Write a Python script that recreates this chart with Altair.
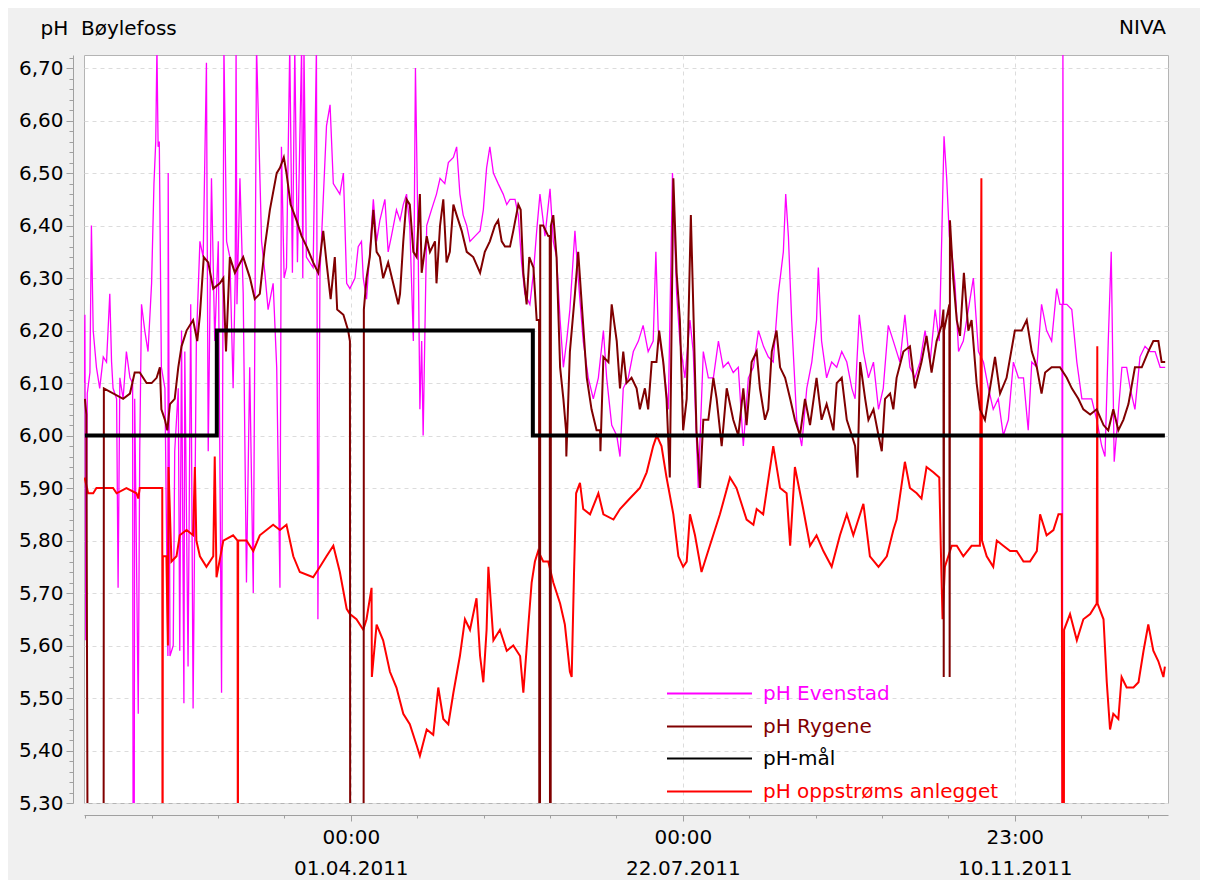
import altair as alt
import pandas as pd

FONT = "DejaVu Sans"
BASE_MS = 1293840000000  # 2011-01-01T00:00:00Z
DAY_MS = 86400000

series_names = ["pH Evenstad", "pH Rygene", "pH-mål", "pH oppstrøms anlegget"]
series_colors = ["#ff00ff", "#800000", "#000000", "#ff0000"]

# days since 2011-01-01, pH values
evenstad_days = [0.0, 0.3, 0.6, 1.1, 2.0, 2.5, 3.1, 4.2, 5.3, 6.5, 7.6, 8.7, 9.3, 9.8, 11.0, 11.5, 12.1, 13.2, 14.3, 15.5,
                 16.4, 16.6, 16.9, 17.1, 18.3, 18.8, 19.4, 20.5, 21.6, 22.8, 23.6, 24.2, 24.6, 25.0, 25.4, 26.1, 27.3,
                 28.3, 28.4, 29.0, 30.1, 30.6, 31.8, 32.3, 32.9, 33.7, 34.0, 35.1, 36.0, 36.8, 37.9, 39.1, 40.2, 41.3,
                 41.9, 43.0, 44.1, 45.3, 46.4, 47.2, 48.1, 49.2, 50.3, 51.0, 51.3, 51.6, 52.6, 53.7, 54.8, 55.9, 57.1,
                 58.2, 59.9, 61.0, 62.1, 63.8, 65.0, 66.1, 66.6, 67.5, 68.3, 69.4, 70.3, 71.1, 72.0, 73.4, 73.8, 74.2,
                 75.0, 77.3, 78.4, 78.9, 79.6, 81.8, 83.0, 84.1, 86.3, 87.5, 88.6, 89.7, 91.4, 92.5, 93.6, 94.2, 95.3,
                 96.4, 97.6, 98.7, 99.8, 101.5, 102.6, 103.7, 105.4, 106.6, 107.7, 108.8, 109.9, 111.1, 111.8, 112.7,
                 113.3, 113.9, 114.4, 115.6, 117.2, 118.9, 120.1, 121.7, 122.9, 124.6, 125.7, 126.8, 127.9, 129.1,
                 130.2, 131.9, 133.6, 134.7, 135.8, 136.9, 138.1, 139.7, 141.4, 142.6, 143.7, 145.4, 146.5, 147.6,
                 148.7, 150.4, 151.6, 152.7, 153.8, 155.5, 157.2, 158.3, 159.4, 160.6, 161.7, 162.8, 163.9, 165.6,
                 166.7, 168.4, 170.1, 171.8, 173.5, 175.2, 176.3, 178.0, 179.7, 180.8, 181.9, 183.6, 185.3, 187.0,
                 188.6, 190.3, 192.0, 192.9, 193.7, 195.4, 197.1, 198.5, 199.9, 201.0, 202.7, 204.4, 205.5, 207.2,
                 208.9, 210.6, 212.3, 214.0, 215.6, 217.3, 219.0, 220.7, 222.4, 224.1, 225.8, 227.5, 229.2, 230.8,
                 232.5, 234.2, 235.9, 236.7, 237.6, 238.7, 240.4, 242.1, 243.8, 245.5, 247.1, 247.7, 248.8, 250.5,
                 252.2, 253.9, 255.6, 257.3, 259.0, 260.1, 261.5, 262.9, 264.6, 266.3, 268.0, 269.6, 271.3, 273.0,
                 275.2, 276.9, 278.6, 280.3, 282.0, 283.7, 285.4, 287.1, 288.5, 289.3, 290.1, 291.0, 291.9, 292.7,
                 293.8, 295.0, 296.6, 298.3, 300.0, 301.7, 303.4, 305.1, 306.7, 308.4, 310.1, 311.8, 313.5, 315.2,
                 316.9, 318.5, 319.7, 321.4, 323.0, 324.7, 326.4, 328.1, 329.2, 329.9, 330.0, 330.2, 330.4, 331.5,
                 333.2, 334.9, 336.6, 338.2, 339.9, 341.6, 343.3, 344.4, 345.5, 346.5, 347.5, 348.4, 350.1, 351.7,
                 352.9, 354.5, 356.2, 357.9, 359.6, 361.3, 363.0, 364.7]
evenstad_ph = [6.10, 6.23, 5.61, 6.08, 6.12, 6.40, 6.20, 6.13, 6.09, 6.15, 6.14, 6.27, 6.14, 6.09, 6.07, 5.71, 6.11, 6.07, 6.16, 6.11,
               6.10, 5.00, 5.00, 6.07, 5.47, 5.97, 6.25, 6.20, 6.16, 6.29, 6.48, 6.56, 6.74, 6.55, 6.56, 6.13, 6.09,
               5.58, 6.50, 5.58, 5.60, 5.97, 6.09, 5.59, 6.20, 5.49, 6.16, 5.56, 6.25, 5.48, 6.18, 6.37, 6.34, 6.71,
               5.97, 6.49, 6.18, 6.37, 5.51, 6.74, 6.37, 6.34, 6.09, 6.30, 6.74, 6.25, 6.49, 6.27, 5.72, 6.13, 5.70,
               6.74, 6.37, 6.31, 6.24, 6.29, 6.13, 5.71, 6.55, 6.30, 6.32, 6.74, 6.31, 6.74, 6.33, 6.74, 6.30, 6.74,
               6.34, 6.32, 6.74, 5.65, 6.31, 6.59, 6.63, 6.48, 6.46, 6.50, 6.29, 6.28, 6.30, 6.36, 6.37, 6.30, 6.26,
               6.35, 6.45, 6.37, 6.41, 6.45, 6.35, 6.38, 6.43, 6.41, 6.44, 6.46, 6.40, 6.18, 6.70, 6.37,
               6.05, 6.18, 6.00, 6.40, 6.43, 6.46, 6.49, 6.48, 6.52, 6.53, 6.55, 6.46, 6.42, 6.40,
               6.37, 6.38, 6.39, 6.43, 6.51, 6.55, 6.50, 6.48, 6.46, 6.44, 6.45, 6.45, 6.42, 6.33,
               6.27, 6.25, 6.31, 6.39, 6.46, 6.38, 6.47, 6.37, 6.34, 6.22, 6.13, 6.18, 6.24, 6.39,
               6.30, 6.18, 6.11, 6.07, 6.11, 6.20, 6.11, 6.02, 6.00, 5.96, 6.09, 6.11, 6.16, 6.18,
               6.21, 6.16, 6.18, 6.35, 6.20, 6.14, 6.05, 6.50, 6.27, 6.18, 6.11, 6.22, 6.16, 5.90,
               6.16, 6.11, 6.11, 6.18, 6.13, 6.14, 6.12, 6.13, 5.98, 6.11, 6.13, 6.20, 6.17, 6.15,
               6.14, 6.27, 6.35, 6.46, 6.38, 6.22, 6.03, 5.98, 6.09, 6.14, 6.22, 6.32, 6.18, 6.11,
               6.14, 6.13, 6.16, 6.14, 6.09, 6.07, 6.23, 6.16, 6.11, 6.14, 6.05, 6.09, 6.21, 6.18,
               6.14, 6.23, 6.13, 6.11, 6.14, 6.20, 6.14, 6.24, 6.18, 6.37, 6.57, 6.49, 6.38, 6.35,
               6.29, 6.16, 6.18, 6.24, 6.30, 6.16, 6.14, 6.09, 6.05, 6.07, 6.00, 6.03, 6.14, 6.11,
               6.11, 6.01, 6.14, 6.13, 6.25, 6.20, 6.18, 6.28, 6.25, 6.25, 5.00, 6.74, 6.25, 6.25,
               6.24, 6.14, 6.07, 6.07, 6.07, 6.03, 5.98, 5.96, 6.18, 6.35, 5.95, 6.01, 6.13, 6.13,
               6.09, 6.05, 6.15, 6.17, 6.16, 6.16, 6.13, 6.13]

rygene_days = [0.3, 0.8, 1.3, 6.6, 6.7, 13.2, 15.5, 17.1, 18.8, 21.1, 22.8, 24.5, 25.6, 26.1, 27.3, 28.1, 29.0, 30.6, 31.8,
               32.9, 34.6, 36.8, 38.2, 39.1, 40.4, 41.9, 43.6, 45.8, 47.0, 47.9, 49.2, 50.9, 53.7, 56.0, 57.6, 59.3,
               61.0, 62.7, 65.0, 66.1, 67.4, 68.3, 69.7, 71.7, 73.4, 75.1, 77.3, 79.0, 80.7, 81.8, 83.2, 84.6, 85.4,
               87.5, 89.1, 89.7, 89.8, 94.3, 94.4, 95.3, 96.4, 97.6, 98.7, 99.8, 100.9, 102.6, 104.3, 106.0, 106.6,
               107.7, 108.8, 109.9, 111.1, 112.2, 113.3, 113.9, 115.6, 116.7, 118.4, 118.9, 120.1, 121.2, 122.3,
               123.4, 124.6, 125.7, 127.4, 129.1, 131.3, 133.6, 135.2, 136.9, 138.6, 139.7, 140.9, 142.0, 143.7,
               144.8, 146.5, 147.3, 148.2, 149.3, 150.2, 151.6, 152.7, 153.5, 153.6, 153.8, 153.9, 154.9, 156.6,
               157.1, 157.2, 157.4, 157.5, 158.3, 159.4, 160.6, 161.7, 162.6, 162.7, 163.9, 165.6, 166.7, 167.9,
               169.6, 171.2, 172.9, 174.1, 174.2, 175.2, 176.9, 178.0, 179.7, 180.8, 181.9, 183.0, 184.7, 186.4,
               187.5, 189.2, 190.3, 191.5, 193.1, 194.0, 195.4, 196.5, 197.6, 198.8, 199.9, 201.0, 202.1, 203.3,
               204.7, 205.5, 206.6, 207.8, 208.9, 210.6, 212.3, 213.4, 215.1, 216.8, 219.0, 220.7, 222.4, 223.5,
               225.2, 226.9, 228.0, 229.7, 230.8, 232.0, 233.6, 234.8, 236.5, 238.2, 239.8, 241.5, 243.2, 244.9,
               247.1, 248.8, 250.5, 252.8, 253.9, 255.6, 257.3, 259.0, 260.1, 260.9, 261.8, 263.5, 264.6, 266.3,
               268.0, 269.1, 270.2, 271.9, 273.0, 274.1, 276.4, 278.6, 280.3, 282.5, 284.2, 285.9, 287.6, 289.3,
               289.9, 290.0, 290.1, 291.9, 292.0, 292.1, 293.2, 294.4, 295.5, 296.8, 298.3, 299.4, 301.1, 302.2,
               303.9, 305.6, 307.3, 309.0, 311.2, 314.0, 316.3, 318.0, 319.7, 321.4, 323.0, 324.2, 326.4, 329.2,
               331.5, 333.2, 335.4, 337.1, 339.4, 341.6, 343.9, 345.5, 347.2, 348.9, 350.6, 352.3, 354.5, 356.8,
               359.0, 360.7, 362.4, 363.5, 364.7]
rygene_ph = [6.07, 6.04, 5.00, 5.00, 6.09, 6.07, 6.08, 6.12, 6.12, 6.10, 6.10, 6.11, 6.13, 6.05, 6.03, 6.01, 6.06, 6.07, 6.13,
             6.17, 6.20, 6.22, 6.18, 6.23, 6.34, 6.33, 6.28, 6.29, 6.30, 6.16, 6.34, 6.31, 6.34, 6.30, 6.26, 6.27,
             6.36, 6.43, 6.50, 6.51, 6.53, 6.50, 6.44, 6.41, 6.38, 6.36, 6.33, 6.31, 6.39, 6.33, 6.26, 6.34, 6.24,
             6.23, 6.20, 6.18, 5.00, 5.00, 6.24, 6.30, 6.34, 6.43, 6.35, 6.34, 6.30, 6.33, 6.29, 6.25, 6.27,
             6.37, 6.45, 6.44, 6.35, 6.34, 6.46, 6.31, 6.38, 6.35, 6.37, 6.29, 6.40, 6.45, 6.33,
             6.35, 6.44, 6.42, 6.39, 6.35, 6.34, 6.31, 6.35, 6.37, 6.40, 6.41, 6.37, 6.36, 6.36,
             6.39, 6.44, 6.43, 6.31, 6.25, 6.34, 6.32, 6.22, 6.22, 5.00, 5.00, 6.40, 6.40, 6.38,
             6.38, 5.00, 5.00, 6.40, 6.42, 6.34, 6.13, 6.07, 6.01, 5.96, 6.16, 6.27, 6.35, 6.25,
             6.11, 6.05, 6.01, 6.01, 5.97, 6.15, 6.14, 6.25, 6.18, 6.09, 6.16, 6.10, 6.11, 6.09,
             6.05, 6.09, 6.05, 6.14, 6.14, 6.20, 6.14, 6.07, 5.92, 6.49, 6.31, 6.22, 6.01, 6.07,
             6.42, 6.25, 6.01, 5.90, 6.03, 6.03, 6.11, 6.07, 5.98, 6.09, 6.03, 6.00, 6.09, 6.02,
             6.14, 6.16, 6.09, 6.03, 6.05, 6.16, 6.20, 6.13, 6.11, 6.07, 6.03, 6.00, 6.07, 6.02,
             6.11, 6.03, 6.06, 6.01, 6.10, 6.11, 6.03, 6.00, 5.98, 5.92, 6.14, 6.07, 6.03, 6.05,
             6.00, 5.97, 6.07, 6.08, 6.05, 6.11, 6.16, 6.17, 6.09, 6.14, 6.19, 6.12, 6.18, 6.21,
             6.24, 5.54, 6.20, 6.25, 5.54, 6.41, 6.30, 6.22, 6.19, 6.31, 6.20, 6.22, 6.10, 6.05,
             6.03, 6.09, 6.15, 6.08, 6.11, 6.20, 6.20, 6.22, 6.16, 6.13, 6.08, 6.12, 6.13, 6.13,
             6.11, 6.09, 6.07, 6.05, 6.04, 6.05, 6.02, 6.01, 6.05, 6.01, 6.03, 6.06, 6.13, 6.13,
             6.16, 6.18, 6.18, 6.14, 6.14]

maal_days = [0.3, 44.8, 151.4, 364.6]
maal_ph = [6.00, 6.20, 6.00, 6.00]

oppstrom_days = [0.2, 1.4, 3.1, 4.2, 9.8, 11.0, 14.3, 17.7, 18.3, 18.8, 25.6, 26.4, 26.5, 26.6, 27.8, 28.3, 28.5, 29.5,
                 31.2, 32.3, 34.6, 36.8, 37.4, 37.9, 39.1, 41.3, 43.6, 44.1, 44.7, 47.0, 50.3, 51.8, 51.9, 52.0, 54.8,
                 57.1, 59.3, 63.8, 66.1, 68.3, 70.6, 72.8, 77.3, 79.6, 81.8, 84.1, 86.3, 88.6, 89.7, 91.9, 94.2, 95.3,
                 97.0, 97.1, 98.7, 100.9, 103.2, 105.4, 107.7, 109.9, 112.2, 113.3, 115.6, 117.8, 119.5, 121.2, 122.9,
                 124.6, 126.8, 128.5, 130.2, 132.4, 133.6, 134.7, 135.8, 136.4, 138.1, 140.3, 142.6, 144.8, 147.1,
                 148.2, 149.9, 151.0, 152.1, 153.2, 154.9, 156.6, 158.3, 160.6, 162.2, 163.9, 164.5, 165.3, 166.0,
                 167.3, 168.4, 170.7, 173.5, 175.2, 178.6, 180.8, 184.1, 187.5, 189.8, 192.0, 193.2, 194.8, 196.5,
                 198.8, 200.5, 202.1, 203.3, 204.4, 206.1, 208.3, 211.1, 214.5, 217.9, 220.1, 223.5, 225.8, 226.9,
                 229.1, 232.5, 234.8, 237.0, 238.2, 239.8, 242.6, 244.9, 247.1, 249.4, 252.2, 255.0, 257.3, 259.5,
                 262.9, 265.1, 268.0, 270.8, 273.0, 274.1, 276.9, 278.6, 280.9, 282.5, 284.2, 286.5, 288.5, 289.0,
                 289.6, 290.4, 292.7, 294.4, 296.6, 299.4, 302.2, 302.7, 302.9, 304.5, 306.7, 307.9, 310.1, 312.4,
                 314.6, 316.9, 319.1, 321.4, 322.5, 324.7, 327.0, 328.7, 329.8, 330.1, 330.5, 330.6, 332.6, 334.9,
                 337.1, 339.4, 341.6, 341.8, 341.9, 343.9, 345.0, 346.1, 347.2, 348.9, 350.0, 351.7, 354.0, 355.7,
                 357.4, 359.0, 360.7, 362.4, 364.1, 364.6]
oppstrom_ph = [5.92, 5.89, 5.89, 5.90, 5.90, 5.89, 5.90, 5.89, 5.88, 5.90, 5.90, 5.90, 5.00, 5.77, 5.77, 5.60, 5.94, 5.76,
               5.77, 5.81, 5.82, 5.81, 5.94, 5.80, 5.77, 5.75, 5.77, 5.96, 5.73, 5.80, 5.81, 5.80, 5.00, 5.80, 5.80,
               5.78, 5.81, 5.83, 5.82, 5.83, 5.77, 5.74, 5.73, 5.75, 5.77, 5.79, 5.74, 5.67, 5.66, 5.65, 5.63, 5.65,
               5.71, 5.54, 5.64, 5.61, 5.55, 5.52, 5.47, 5.45, 5.41, 5.39, 5.44, 5.43, 5.52, 5.46, 5.45,
               5.51, 5.58, 5.65, 5.63, 5.69, 5.58, 5.53, 5.63, 5.75, 5.61, 5.63, 5.59, 5.60, 5.58,
               5.51, 5.64, 5.72, 5.76, 5.78, 5.76, 5.76, 5.72, 5.68, 5.64, 5.55, 5.54, 5.74, 5.89,
               5.91, 5.86, 5.85, 5.89, 5.85, 5.84, 5.86, 5.88, 5.90, 5.93, 5.98, 6.00, 5.98, 5.92,
               5.85, 5.77, 5.75, 5.76, 5.85, 5.81, 5.74, 5.79, 5.85, 5.92, 5.90, 5.84, 5.83, 5.86,
               5.85, 5.98, 5.90, 5.89, 5.79, 5.94, 5.86, 5.79, 5.81, 5.78, 5.75, 5.81, 5.85, 5.81,
               5.87, 5.77, 5.75, 5.77, 5.82, 5.84, 5.95, 5.90, 5.89, 5.88, 5.94, 5.93, 5.92, 5.79,
               5.65, 5.75, 5.79, 5.79, 5.77, 5.79, 5.79, 6.49, 5.80, 5.77, 5.75, 5.80, 5.79, 5.78,
               5.78, 5.76, 5.76, 5.78, 5.85, 5.81, 5.82, 5.85, 5.85, 5.00, 5.00, 5.63, 5.66, 5.61,
               5.65, 5.66, 5.68, 6.17, 5.68, 5.65, 5.53, 5.44, 5.47, 5.46, 5.54, 5.52, 5.52, 5.53,
               5.59, 5.64, 5.59, 5.57, 5.54, 5.56]

# axis tick layout (majors labelled, minors between)
major_days = [90.0, 202.0, 313.0 + 23.0 / 24.0]
minor_step = 22.4
minor_days = [90.0 + minor_step * k for k in range(-4, 13) if k not in (0, 5, 10)]
y_ticks = [round(5.30 + 0.02 * i, 2) for i in range(72)]


def to_ms(d):
    return int(round(BASE_MS + d * DAY_MS))


major_ms = [to_ms(d) for d in major_days]
tick_ms = sorted(major_ms + [to_ms(d) for d in minor_days])
x_domain = [BASE_MS, to_ms(365.65)]
y_domain = [5.30, 6.725]

x_major_test = f"indexof({major_ms}, +datum.value) >= 0"
y_major_test = "abs(datum.value * 10 - round(datum.value * 10)) < 0.01"

x_axis = alt.Axis(
    values=tick_ms,
    title=None,
    labelExpr=f"{x_major_test} ? [utcFormat(datum.value, '%H:%M'), utcFormat(datum.value, '%d.%m.%Y')] : ''",
    labelLineHeight=31,
    labelPadding=6,
    labelOverlap=False,
    labelFlush=False,
    offset=12,
    tickSize={"condition": {"test": x_major_test, "value": 6}, "value": 3},
    grid=True,
    gridDash=[4, 4],
    gridColor="#dcdcdc",
    gridOpacity={"condition": {"test": x_major_test, "value": 1}, "value": 0},
)

y_axis = alt.Axis(
    values=y_ticks,
    title="pH\u00a0\u00a0Bøylefoss",
    titleAngle=0,
    titleAlign="left",
    titleBaseline="middle",
    titleX=-33,
    titleY=-27,
    labelExpr=f"{y_major_test} ? replace(format(datum.value, '.2f'), '.', ',') : ''",
    labelPadding=3,
    labelOverlap=False,
    labelFlush=False,
    offset=11,
    tickSize={"condition": {"test": y_major_test, "value": 7}, "value": 4},
    grid=True,
    gridDash=[4, 4],
    gridColor="#dcdcdc",
    gridOpacity={"condition": {"test": y_major_test, "value": 1}, "value": 0},
)

legend_x = 582
legend_rows_y = [595, 628, 660, 693]


def frame(days, vals, name):
    return pd.DataFrame({"t": [to_ms(d) for d in days], "ph": vals, "series": name})


def line_layer(days, vals, idx, width, interpolate="linear"):
    name = series_names[idx]
    color = series_colors[idx]
    return alt.Chart(frame(days, vals, name)).mark_line(
        strokeWidth=width, clip=True, interpolate=interpolate
    ).encode(
        x=alt.X("t:T", scale=alt.Scale(type="utc", domain=x_domain), axis=x_axis),
        y=alt.Y("ph:Q", scale=alt.Scale(domain=y_domain, nice=False, zero=False), axis=y_axis),
        color=alt.Color(
            "series:N",
            scale=alt.Scale(domain=[name], range=[color]),
            legend=alt.Legend(
                title=None,
                orient="none",
                legendX=legend_x,
                legendY=legend_rows_y[idx],
                symbolType="stroke",
                symbolSize=7225,
                symbolStrokeWidth=2,
                labelFont=FONT,
                labelFontSize=20,
                labelColor=color,
                labelOffset=10,
                labelLimit=400,
                padding=0,
            ),
        ),
        order=alt.Order("t:Q"),
    )


evenstad = line_layer(evenstad_days, evenstad_ph, 0, 1.3)
oppstrom = line_layer(oppstrom_days, oppstrom_ph, 3, 2.0)
rygene = line_layer(rygene_days, rygene_ph, 1, 2.0)
maal = line_layer(maal_days, maal_ph, 2, 4.0, interpolate="step-after")

niva = alt.Chart(pd.DataFrame({"txt": ["NIVA"]})).mark_text(
    align="right", baseline="middle", font=FONT, fontSize=20, color="black", clip=False
).encode(text="txt:N", x=alt.value(1082), y=alt.value(-27))

chart = alt.layer(evenstad, oppstrom, rygene, maal, niva).resolve_scale(
    color="independent"
).properties(
    width=1084,
    height=748,
    padding={"left": 76, "top": 47, "right": 32, "bottom": 77},
    autosize=alt.AutoSizeParams(type="none"),
    background="#f0f0f0",
).configure_view(
    fill="white", stroke="#b4b4b4", strokeWidth=1
).configure_axis(
    labelFont=FONT, labelFontSize=20, labelColor="black",
    titleFont=FONT, titleFontSize=20, titleFontWeight="normal", titleColor="black",
    domainColor="#a0a0a0", tickColor="#a0a0a0",
)

chart.save("out.html", embed_options={"renderer": "svg", "actions": False})
